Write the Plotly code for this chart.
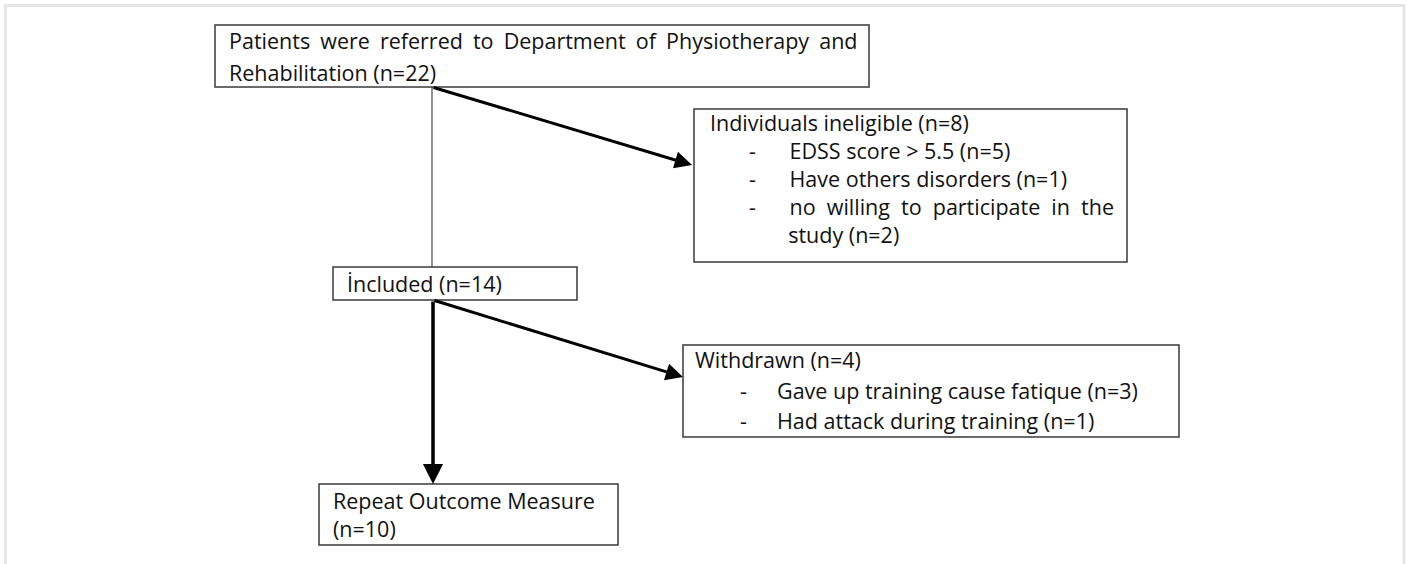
import plotly.graph_objects as go

# ---------------- data (text content of the flow chart) ----------------
stage_labels = [
    "Patients were referred to Department of Physiotherapy and Rehabilitation",
    "Individuals ineligible",
    "İncluded",
    "Withdrawn",
    "Repeat Outcome Measure",
]
stage_counts = [22, 8, 14, 4, 10]

ineligible_reasons = ["EDSS score > 5.5", "Have others disorders",
                      "no willing to participate in the study"]
ineligible_counts = [5, 1, 2]

withdrawn_reasons = ["Gave up training cause fatique", "Had attack during training"]
withdrawn_counts = [3, 1]

# ---------------- layout constants ----------------
W, H = 1407, 564
FONT = "Open Sans"
FS = 21.5
ASC = 1.069  # Open Sans ascent (em)
TXT = "#111111"
BOX_LINE = "#3a3a3a"
NB = "\u00a0"

fig = go.Figure()
fig.add_trace(go.Scatter(x=[0, W], y=[0, H], mode="markers",
                         marker=dict(opacity=0), hoverinfo="skip", showlegend=False))

shapes = []
annotations = []

def box(x0, y0, x1, y1):
    shapes.append(dict(type="rect", xref="x", yref="y", x0=x0, y0=y0, x1=x1, y1=y1,
                       line=dict(color=BOX_LINE, width=1.5), fillcolor="rgba(0,0,0,0)"))

def text(x, baseline, s):
    top = baseline - ASC * FS - 1
    annotations.append(dict(x=x, y=top, xref="x", yref="y", text=s,
                            showarrow=False, xanchor="left", yanchor="top",
                            align="left", borderpad=0, borderwidth=1,
                            bordercolor="rgba(0,0,0,0)",
                            font=dict(family=FONT, size=FS, color=TXT)))

def arrow(x0, y0, x1, y1, width=3):
    annotations.append(dict(x=x1, y=y1, ax=x0, ay=y0, xref="x", yref="y",
                            axref="x", ayref="y", text="", showarrow=True,
                            arrowhead=2, arrowsize=1.15, arrowwidth=width,
                            arrowcolor="#000000", standoff=0))

def spaced(s, px):
    return f'<span style="word-spacing:{px}px">{s}</span>'

# outer frame
shapes.append(dict(type="rect", xref="x", yref="y", x0=5.5, y0=5.5, x1=1404, y1=620,
                   line=dict(color="#e6e6e6", width=3), fillcolor="rgba(0,0,0,0)"))

# thin connector from first box to "Included"
shapes.append(dict(type="line", xref="x", yref="y", x0=432, y0=87, x1=432, y1=267,
                   line=dict(color="#555555", width=1.3)))

# boxes
box(215, 25, 869, 87)
box(694, 109, 1127, 262)
box(333, 267, 577, 300)
box(683, 345, 1179, 437)
box(319, 484, 618, 545)

# box 1 text (first line justified in the original)
first_words = stage_labels[0].rsplit(" ", 1)
text(228, 48.5, spaced(first_words[0], 4.5))
text(228, 80.5, f"{first_words[1]} (n={stage_counts[0]})")

# ineligible box: header + bulleted reasons in one block
bullet = NB * 7 + "-" + NB * 6
indent = NB * 14
reason_words = ineligible_reasons[2].rsplit(" ", 1)
ine_lines = [
    f"{stage_labels[1]} (n={stage_counts[1]})",
    bullet + f"{ineligible_reasons[0]} (n={ineligible_counts[0]})",
    bullet + f"{ineligible_reasons[1]} (n={ineligible_counts[1]})",
    bullet + spaced(reason_words[0], 5.5),
    indent + f"{reason_words[1]} (n={ineligible_counts[2]})",
]
text(709, 130.5, "<br>".join(ine_lines))

# included
text(346, 292, f"{stage_labels[2]} (n={stage_counts[2]})")

# withdrawn
text(694, 368, f"{stage_labels[3]} (n={stage_counts[3]})")
for r, c, b in zip(withdrawn_reasons, withdrawn_counts, [399, 429]):
    text(739, b, "-")
    text(776, b, f"{r} (n={c})")

# repeat outcome
text(332, 509, f"{stage_labels[4]}<br>(n={stage_counts[4]})")

# arrows
arrow(432, 87, 692, 165)
arrow(433, 300, 683, 377)
arrow(433, 300, 433, 484, width=3.5)

fig.update_layout(
    width=W, height=H,
    margin=dict(l=0, r=0, t=0, b=0),
    paper_bgcolor="white", plot_bgcolor="white",
    xaxis=dict(range=[0, W], visible=False, fixedrange=True),
    yaxis=dict(range=[H, 0], visible=False, fixedrange=True),
    shapes=shapes, annotations=annotations, showlegend=False,
)

fig.write_html("out.html", config={"displayModeBar": False},
               post_script="document.body.style.margin='0';")
